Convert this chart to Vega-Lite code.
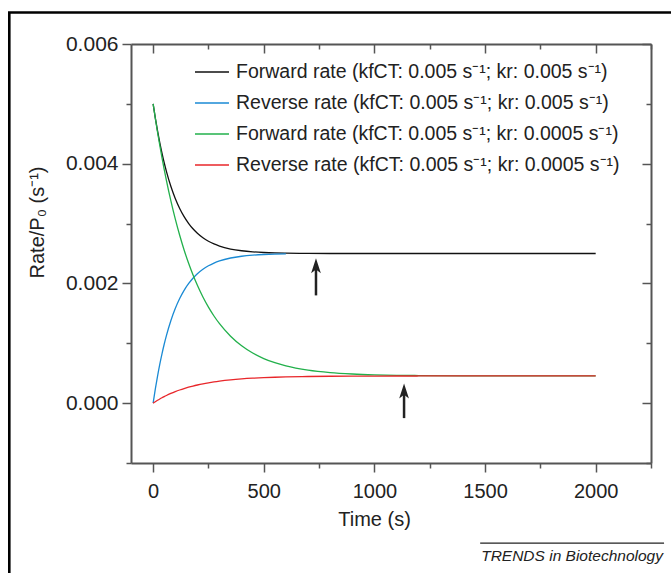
{
  "$schema": "https://vega.github.io/schema/vega-lite/v6.json",
  "width": 520,
  "height": 419,
  "autosize": "none",
  "padding": {"left": 131, "top": 44, "right": 20, "bottom": 110},
  "background": "white",
  "config": {
    "view": {"stroke": null},
    "axis": {"grid": false, "labelFont": "Liberation Sans", "titleFont": "Liberation Sans", "labelColor": "#222", "titleColor": "#222", "titleFontWeight": "normal", "domainColor": "#555", "tickColor": "#555"},
    "text": {"font": "Liberation Sans"}
  },
  "resolve": {"axis": {"x": "independent", "y": "independent"}},
  "layer": [
    {
      "data": {"values": [
        {"s":"F1","t":0,"v":0.005},{"s":"F1","t":10,"v":0.004762},{"s":"F1","t":20,"v":0.004547},{"s":"F1","t":30,"v":0.004352},{"s":"F1","t":40,"v":0.004176},{"s":"F1","t":50,"v":0.004016},{"s":"F1","t":60,"v":0.003872},{"s":"F1","t":80,"v":0.003623},{"s":"F1","t":100,"v":0.00342},{"s":"F1","t":120,"v":0.003253},{"s":"F1","t":140,"v":0.003116},{"s":"F1","t":160,"v":0.003005},{"s":"F1","t":180,"v":0.002913},{"s":"F1","t":200,"v":0.002838},{"s":"F1","t":225,"v":0.002763},{"s":"F1","t":250,"v":0.002705},{"s":"F1","t":275,"v":0.00266},{"s":"F1","t":300,"v":0.002624},{"s":"F1","t":350,"v":0.002575},{"s":"F1","t":400,"v":0.002546},{"s":"F1","t":450,"v":0.002528},{"s":"F1","t":500,"v":0.002517},{"s":"F1","t":550,"v":0.00251},{"s":"F1","t":600,"v":0.002506},{"s":"F1","t":700,"v":0.002502},{"s":"F1","t":800,"v":0.0025},{"s":"F1","t":1000,"v":0.0025},{"s":"F1","t":1500,"v":0.0025},{"s":"F1","t":2000,"v":0.0025},
        {"s":"R1","t":0,"v":0},{"s":"R1","t":10,"v":0.000238},{"s":"R1","t":20,"v":0.000453},{"s":"R1","t":30,"v":0.000648},{"s":"R1","t":40,"v":0.000824},{"s":"R1","t":50,"v":0.000984},{"s":"R1","t":60,"v":0.001128},{"s":"R1","t":80,"v":0.001377},{"s":"R1","t":100,"v":0.00158},{"s":"R1","t":120,"v":0.001747},{"s":"R1","t":140,"v":0.001884},{"s":"R1","t":160,"v":0.001995},{"s":"R1","t":180,"v":0.002087},{"s":"R1","t":200,"v":0.002162},{"s":"R1","t":225,"v":0.002237},{"s":"R1","t":250,"v":0.002295},{"s":"R1","t":275,"v":0.00234},{"s":"R1","t":300,"v":0.002376},{"s":"R1","t":350,"v":0.002425},{"s":"R1","t":400,"v":0.002454},{"s":"R1","t":450,"v":0.002472},{"s":"R1","t":500,"v":0.002483},{"s":"R1","t":550,"v":0.00249},{"s":"R1","t":600,"v":0.002494},
        {"s":"F2","t":0,"v":0.005},{"s":"F2","t":10,"v":0.004757},{"s":"F2","t":20,"v":0.004526},{"s":"F2","t":30,"v":0.004309},{"s":"F2","t":40,"v":0.004102},{"s":"F2","t":50,"v":0.003907},{"s":"F2","t":60,"v":0.003722},{"s":"F2","t":80,"v":0.003382},{"s":"F2","t":100,"v":0.003077},{"s":"F2","t":120,"v":0.002804},{"s":"F2","t":140,"v":0.002559},{"s":"F2","t":160,"v":0.00234},{"s":"F2","t":180,"v":0.002144},{"s":"F2","t":200,"v":0.001968},{"s":"F2","t":225,"v":0.001773},{"s":"F2","t":250,"v":0.001604},{"s":"F2","t":275,"v":0.001456},{"s":"F2","t":300,"v":0.001327},{"s":"F2","t":350,"v":0.001118},{"s":"F2","t":400,"v":0.000958},{"s":"F2","t":450,"v":0.000837},{"s":"F2","t":500,"v":0.000745},{"s":"F2","t":550,"v":0.000675},{"s":"F2","t":600,"v":0.000622},{"s":"F2","t":700,"v":0.000551},{"s":"F2","t":800,"v":0.00051},{"s":"F2","t":900,"v":0.000487},{"s":"F2","t":1000,"v":0.000473},{"s":"F2","t":1100,"v":0.000465},{"s":"F2","t":1200,"v":0.000461},{"s":"F2","t":1400,"v":0.000457},{"s":"F2","t":1600,"v":0.000455},{"s":"F2","t":2000,"v":0.000455},
        {"s":"R2","t":0,"v":0},{"s":"R2","t":10,"v":0.0000243},{"s":"R2","t":20,"v":0.0000473},{"s":"R2","t":30,"v":0.0000691},{"s":"R2","t":40,"v":0.0000898},{"s":"R2","t":50,"v":0.0001093},{"s":"R2","t":60,"v":0.0001278},{"s":"R2","t":80,"v":0.0001618},{"s":"R2","t":100,"v":0.0001923},{"s":"R2","t":120,"v":0.0002196},{"s":"R2","t":140,"v":0.0002441},{"s":"R2","t":160,"v":0.000266},{"s":"R2","t":180,"v":0.0002856},{"s":"R2","t":200,"v":0.0003032},{"s":"R2","t":225,"v":0.0003227},{"s":"R2","t":250,"v":0.0003396},{"s":"R2","t":275,"v":0.0003544},{"s":"R2","t":300,"v":0.0003672},{"s":"R2","t":350,"v":0.0003882},{"s":"R2","t":400,"v":0.0004041},{"s":"R2","t":450,"v":0.0004163},{"s":"R2","t":500,"v":0.0004255},{"s":"R2","t":550,"v":0.0004324},{"s":"R2","t":600,"v":0.0004377},{"s":"R2","t":700,"v":0.0004448},{"s":"R2","t":800,"v":0.0004489},{"s":"R2","t":900,"v":0.0004513},{"s":"R2","t":1000,"v":0.0004526},{"s":"R2","t":1100,"v":0.0004534},{"s":"R2","t":1200,"v":0.0004539},{"s":"R2","t":1400,"v":0.0004543},{"s":"R2","t":1600,"v":0.0004545},{"s":"R2","t":2000,"v":0.0004545}
      ]},
      "mark": {"type": "line", "strokeWidth": 1.3, "interpolate": "monotone"},
      "encoding": {
        "x": {"field": "t", "type": "quantitative",
          "scale": {"domain": [-100, 2250], "nice": false, "zero": false},
          "axis": {"orient": "bottom", "title": "Time (s)", "values": [0,250,500,750,1000,1250,1500,1750,2000,2250],
            "labelExpr": "datum.value % 500 === 0 ? datum.label : ''", "format": "d",
            "tickSize": {"condition": {"test": "datum.value % 500 === 0", "value": 9}, "value": 5},
            "tickWidth": 1.5, "domainWidth": 2, "labelFontSize": 20, "titleFontSize": 20, "labelPadding": 9, "titlePadding": 8, "titleX": 243}},
        "y": {"field": "v", "type": "quantitative",
          "scale": {"domain": [-0.001, 0.006], "nice": false, "zero": false},
          "axis": {"orient": "left", "title": "Rate/P₀ (s⁻¹)", "values": [-0.001,0,0.001,0.002,0.003,0.004,0.005,0.006],
            "format": ".3f", "labelExpr": "round(datum.value*1000) % 2 === 0 ? datum.label : ''",
            "tickSize": {"condition": {"test": "round(datum.value*1000) % 2 === 0", "value": 9}, "value": 5},
            "tickWidth": 1.5, "domainWidth": 2, "labelFontSize": 21, "titleFontSize": 20, "labelPadding": 4, "titleX": -94, "titleY": 178, "titleBaseline": "middle"}},
        "color": {"field": "s", "type": "nominal",
          "scale": {"domain": ["F1","R1","F2","R2"], "range": ["#111111","#1a8ad4","#22b04b","#e8262a"]},
          "legend": {"title": null, "orient": "none", "legendX": 63, "legendY": 12.5, "padding": 0, "offset": 0,
            "symbolType": "stroke", "symbolSize": 1156, "symbolStrokeWidth": 1.3, "clipHeight": 31, "rowPadding": 0,
            "labelFont": "Liberation Sans", "labelFontSize": 19.5, "labelColor": "#222", "labelOffset": 6, "labelLimit": 0,
            "labelExpr": "datum.label == 'F1' ? 'Forward rate (kfCT: 0.005 s⁻¹; kr: 0.005 s⁻¹)' : datum.label == 'R1' ? 'Reverse rate (kfCT: 0.005 s⁻¹; kr: 0.005 s⁻¹)' : datum.label == 'F2' ? 'Forward rate (kfCT: 0.005 s⁻¹; kr: 0.0005 s⁻¹)' : 'Reverse rate (kfCT: 0.005 s⁻¹; kr: 0.0005 s⁻¹)'"}}
      }
    },
    {
      "data": {"name": "arrows", "values": [
        {"t": 736, "y0": 0.0018, "y1": 0.00228, "tip": 0.00242},
        {"t": 1134, "y0": -0.00025, "y1": 0.00018, "tip": 0.00033}
      ]},
      "mark": {"type": "rule", "strokeWidth": 2.5, "color": "#222"},
      "encoding": {
        "x": {"field": "t", "type": "quantitative",
          "axis": {"orient": "top", "title": null, "labels": false, "values": [0,250,500,750,1000,1250,1500,1750,2000,2250],
            "tickSize": {"condition": {"test": "datum.value % 500 === 0", "value": -9}, "value": -5},
            "tickWidth": 1.5, "domainWidth": 2}},
        "y": {"field": "y0", "type": "quantitative",
          "axis": {"orient": "right", "title": null, "labels": false, "values": [-0.001,0,0.001,0.002,0.003,0.004,0.005,0.006],
            "tickSize": {"condition": {"test": "round(datum.value*1000) % 2 === 0", "value": -9}, "value": -5},
            "tickWidth": 1.5, "domainWidth": 2}},
        "y2": {"field": "y1"}
      }
    },
    {
      "data": {"name": "arrows"},
      "mark": {"type": "point", "shape": "M0,0L0.65,2L0,1.5L-0.65,2Z", "size": 225, "filled": true, "opacity": 1, "color": "#222"},
      "encoding": {
        "x": {"field": "t", "type": "quantitative", "axis": null},
        "y": {"field": "tip", "type": "quantitative", "axis": null}
      }
    },
    {
      "data": {"values": [{}]},
      "mark": {"type": "rect", "filled": false, "stroke": "#000", "strokeWidth": 2.6},
      "encoding": {
        "x": {"datum": -650, "type": "quantitative", "axis": null},
        "x2": {"datum": 2700},
        "y": {"datum": 0.006526, "type": "quantitative", "axis": null},
        "y2": {"datum": -0.0045}
      }
    },
    {
      "data": {"values": [{}]},
      "mark": {"type": "rule", "strokeWidth": 1.3, "color": "#222"},
      "encoding": {
        "x": {"datum": 1478, "type": "quantitative", "axis": null},
        "x2": {"datum": 2309},
        "y": {"datum": -0.002337, "type": "quantitative", "axis": null}
      }
    },
    {
      "data": {"values": [{"credit": "TRENDS in Biotechnology"}]},
      "mark": {"type": "text", "align": "right", "baseline": "alphabetic", "fontStyle": "italic", "fontSize": 15.5, "font": "Liberation Sans", "color": "#222"},
      "encoding": {
        "x": {"datum": 2304, "type": "quantitative", "axis": null},
        "y": {"datum": -0.00263, "type": "quantitative", "axis": null},
        "text": {"field": "credit"}
      }
    }
  ]
}
